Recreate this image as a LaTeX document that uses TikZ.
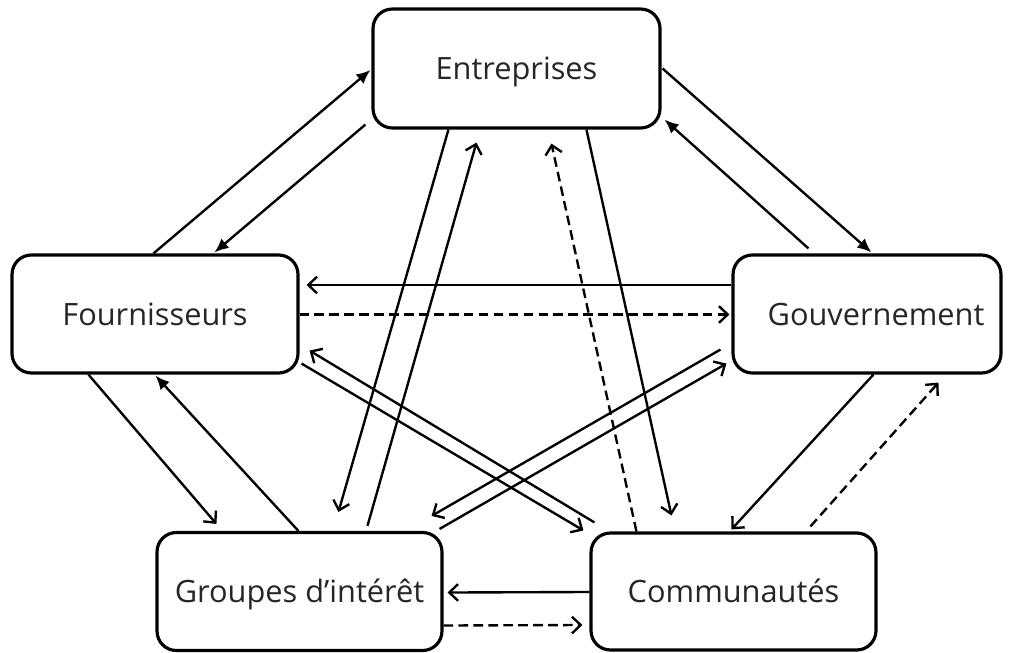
\documentclass[tikz,border=0pt]{standalone}
\usepackage{fontspec}
\setmainfont{Open Sans}
\usetikzlibrary{arrows.meta,calc}
\definecolor{txt}{HTML}{262626}
\begin{document}
\begin{tikzpicture}[x=0.02cm,y=-0.02cm,
  actor/.style={draw,line width=1.8pt,rounded corners=11pt,fill=white,
    text=txt,font=\fontsize{17.5}{20}\selectfont,inner sep=0pt,
    text height=15pt,text depth=2pt},
  link/.style={line width=1.35pt},
  tipf/.style={-{Latex[length=8pt,width=7pt]}},
  tipo/.style={-{Straight Barb[length=5pt,width=9.5pt,line width=1.35pt]}},
  flow/.style={link,tipo},
  flowf/.style={link,tipf},
  soft/.style={link,tipo,dash pattern=on 5.5pt off 3pt}]
\useasboundingbox (0,0) rectangle (1010,652);

% participants
\node[actor,minimum width=5.74cm,minimum height=2.38cm] (ent) at (516.5,68.5) {Entreprises};
\node[actor,minimum width=5.72cm,minimum height=2.36cm] (four) at (155,314) {Fournisseurs};
\node[actor,minimum width=5.36cm,minimum height=2.36cm] (gouv) at (867,314) {\hspace*{0.36cm}Gouvernement};
\node[actor,minimum width=5.70cm,minimum height=2.36cm] (grp) at (299.5,591.5) {Groupes d’intérêt};
\node[actor,minimum width=5.70cm,minimum height=2.34cm] (comm) at (733.5,591.5) {Communautés};

% Entreprises <-> Fournisseurs
\draw[flowf] ($(four.north west)+(143,0)$) -- ($(ent.west)+(-1,1.5)$);
\draw[flowf] ($(ent.south west)+(-6,-5)$) -- ($(four.north west)+(204,-1)$);

% Entreprises <-> Gouvernement
\draw[flowf] ($(ent.east)+(1,0)$) -- ($(gouv.north west)+(140,-1)$);
\draw[flowf] ($(gouv.north west)+(77,-5)$) -- ($(ent.south east)+(3,-10)$);

% Fournisseurs <-> Gouvernement
\draw[flow] ($(gouv.west)+(0,-29)$) -- ($(four.east)+(7,-29)$);
\draw[soft] ($(four.east)+(0,0.5)$) -- ($(gouv.west)+(-2,0.5)$);

% Fournisseurs <-> Communautés
\draw[flow] ($(comm.north west)+(5,-9)$) -- ($(four.south east)+(10,-24)$);
\draw[flow] ($(four.south east)+(2,-11)$) -- ($(comm.north west)+(-6,-1)$);

% Gouvernement <-> Groupes d'intérêt
\draw[flow] ($(gouv.south west)+(-11,-25)$) -- ($(grp.north east)+(-12,-15)$);
\draw[flow] ($(grp.north east)+(-4,-2)$) -- ($(gouv.south west)+(-5,-11)$);

% Entreprises <-> Groupes d'intérêt
\draw[flow] ($(ent.south west)+(77,0)$) -- ($(grp.north west)+(183,-19)$);
\draw[flow] ($(grp.north west)+(212,-5)$) -- ($(ent.south west)+(105,13)$);

% Entreprises <-> Communautés
\draw[flow] ($(ent.south west)+(215,0)$) -- ($(comm.north west)+(82,-16)$);
\draw[soft] ($(comm.north west)+(47,0)$) -- ($(ent.south west)+(180,14)$);

% Gouvernement <-> Communautés
\draw[flow] ($(gouv.south west)+(142,0)$) -- ($(comm.north west)+(142,-2)$);
\draw[soft] ($(comm.north west)+(221,-5)$) -- ($(gouv.south west)+(207,8)$);

% Fournisseurs <-> Groupes d'intérêt
\draw[flow] ($(four.south west)+(78,0)$) -- ($(grp.north west)+(61,-7)$);
\draw[flowf] ($(grp.north west)+(143,0)$) -- ($(four.south west)+(145,1)$);

% Groupes d'intérêt <-> Communautés
\draw[flow] ($(comm.west)+(0,0.5)$) -- ($(grp.east)+(4,1)$);
\draw[soft] ($(grp.east)+(0,34)$) -- ($(comm.west)+(-7,33.5)$);
\end{tikzpicture}
\end{document}
